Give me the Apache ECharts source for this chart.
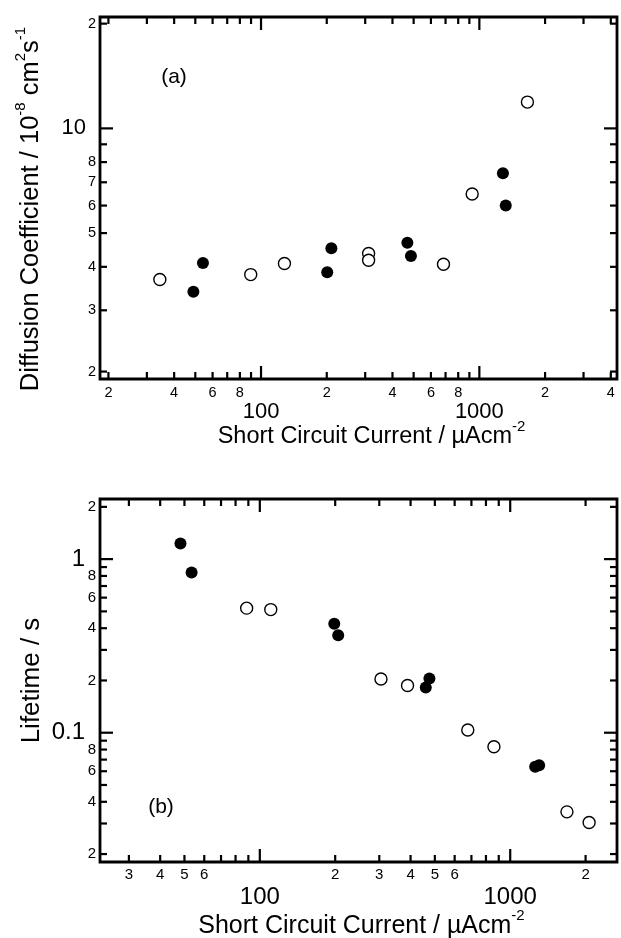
<!DOCTYPE html>
<html><head><meta charset="utf-8">
<script src="https://cdn.jsdelivr.net/npm/echarts@6/dist/echarts.min.js"></script>
<style>html,body{margin:0;padding:0;background:#fff}#c{width:621px;height:938px}</style>
</head><body><div id="c"></div>
<script>
// ---------- Panel (a): diffusion coefficient vs short circuit current ----------
const aOpenX   = [34.4, 89.7, 128, 311, 311, 685, 927, 1660];
const aOpenY   = [3.68, 3.80, 4.09, 4.37, 4.18, 4.07, 6.48, 11.9];
const aFilledX = [49, 54.2, 201, 210, 468, 486, 1282, 1321];
const aFilledY = [3.39, 4.10, 3.86, 4.52, 4.69, 4.30, 7.43, 6.0];

// ---------- Panel (b): lifetime vs short circuit current ----------
const bOpenX   = [88.6, 110.6, 304.7, 389, 677, 861, 1685, 2066];
const bOpenY   = [0.522, 0.512, 0.204, 0.187, 0.1036, 0.083, 0.035, 0.0304];
const bFilledX = [48.2, 53.4, 198.3, 205.6, 460, 475.7, 1258, 1305];
const bFilledY = [1.23, 0.837, 0.425, 0.364, 0.182, 0.205, 0.0637, 0.0649];

// ---------- Ticks and tick labels ----------
const aXMajor = [100, 1000];
const aXMinor = [20,30,40,50,60,70,80,90,200,300,400,500,600,700,800,900,2000,3000,4000];
const aXMinorLabels = [20,40,60,80,200,400,600,800,2000,4000];
const aYMajor = [10];
const aYMinor = [2,3,4,5,6,7,8,9,20];
const aYMinorLabels = [2,3,4,5,6,7,8,20];

const bXMajor = [100, 1000];
const bXMinor = [30,40,50,60,70,80,90,200,300,400,500,600,700,800,900,2000];
const bXMinorLabels = [30,40,50,60,200,300,400,500,600,2000];
const bYMajor = [0.1, 1];
const bYMinor = [0.02,0.03,0.04,0.05,0.06,0.07,0.08,0.09,0.2,0.3,0.4,0.5,0.6,0.7,0.8,0.9,2];
const bYMinorLabels = [0.02,0.04,0.06,0.08,0.2,0.4,0.6,0.8,2];

const FONT = '"Liberation Sans", Arial, Helvetica, sans-serif';

function lead(v){ const e = Math.floor(Math.log10(v) + 1e-9); return String(Math.round(v / Math.pow(10, e))); }
function specs(major, minor, minorLabels){
  return major.map(v => ({v, major:true, label:String(v)}))
    .concat(minor.map(v => ({v, major:false, label: minorLabels.indexOf(v) >= 0 ? lead(v) : null})));
}
function zip(xs, ys){ return xs.map((x, i) => [x, ys[i]]); }

const panels = [
  { grid:{left:100, top:17, width:517, height:362},
    xMin:18.3, xMax:4270, yMin:1.904, yMax:20.9,
    xs: specs(aXMajor, aXMinor, aXMinorLabels), ys: specs(aYMajor, aYMinor, aYMinorLabels),
    minorFont:14.5, majorFont:22, xMinorOff:14, xMajorOff:33, yMinorOff:4, yMajorOff:14,
    open: zip(aOpenX, aOpenY), filled: zip(aFilledX, aFilledY),
    xName:'{m|Short Circuit Current / µAcm}{sup|-2}', xFont:23.5, xSup:15, xGap:40, xPad:[0,0,0,26],
    yName:'{m|Diffusion Coefficient / 10}{sup|-8}{m| cm}{sup|2}{m|s}{sup|-1}', yFont:25.5, ySup:15, yGap:51, yPad:[0,22,0,0],
    tag:'(a)', tagX:174, tagY:77 },
  { grid:{left:100, top:499, width:517, height:363},
    xMin:23.0, xMax:2670, yMin:0.018, yMax:2.22,
    xs: specs(bXMajor, bXMinor, bXMinorLabels), ys: specs(bYMajor, bYMinor, bYMinorLabels),
    minorFont:15, majorFont:24, xMinorOff:13, xMajorOff:35, yMinorOff:4, yMajorOff:15,
    open: zip(bOpenX, bOpenY), filled: zip(bFilledX, bFilledY),
    xName:'{m|Short Circuit Current / µAcm}{sup|-2}', xFont:25, xSup:15, xGap:46, xPad:[0,0,0,6],
    yName:'{m|Lifetime / s}', yFont:26, ySup:15, yGap:55, yPad:[0,0,0,0],
    tag:'(b)', tagX:161, tagY:807 }
];

const grids = [], xAxes = [], yAxes = [], series = [], graphics = [];
panels.forEach((P, i) => {
  grids.push(Object.assign({show:true, borderColor:'#000', borderWidth:2.8, backgroundColor:'transparent', containLabel:false, outerBoundsMode:'none'}, P.grid));
  const nameStyle = (fs, sup, pad, boxPad) => ({color:'#000', fontFamily:FONT, fontSize:fs, padding:boxPad,
    rich:{ m:{fontSize:fs, fontFamily:FONT, color:'#000', verticalAlign:'middle'},
           sup:{fontSize:sup, fontFamily:FONT, color:'#000', verticalAlign:'middle', padding:[0,0,pad,0]} }});
  const hidden = {axisLine:{show:false}, axisTick:{show:false}, axisLabel:{show:false}, splitLine:{show:false}, minorTick:{show:false}};
  xAxes.push(Object.assign({type:'log', logBase:10, gridIndex:i, min:P.xMin, max:P.xMax,
    name:P.xName, nameLocation:'middle', nameGap:P.xGap, nameTextStyle:nameStyle(P.xFont, P.xSup, Math.round(P.xSup*1.4), P.xPad)}, hidden));
  yAxes.push(Object.assign({type:'log', logBase:10, gridIndex:i, min:P.yMin, max:P.yMax,
    name:P.yName, nameLocation:'middle', nameGap:P.yGap, nameTextStyle:nameStyle(P.yFont, P.ySup, Math.round(P.ySup*1.4), P.yPad)}, hidden));

  const tickStyle = {stroke:'#000', lineWidth:2.2};
  // x ticks (bottom & top, inward) + labels
  series.push({type:'custom', xAxisIndex:i, yAxisIndex:i, clip:false, silent:true, z:1,
    data: P.xs.map(s => [s.v, P.yMin]),
    renderItem:(params, api) => {
      const s = P.xs[params.dataIndex];
      const pb = api.coord([s.v, P.yMin]), pt = api.coord([s.v, P.yMax]);
      const len = s.major ? 13 : 7;
      const ch = [
        {type:'line', shape:{x1:pb[0], y1:pb[1], x2:pb[0], y2:pb[1]-len}, style:tickStyle},
        {type:'line', shape:{x1:pt[0], y1:pt[1], x2:pt[0], y2:pt[1]+len}, style:tickStyle}];
      if (s.label) ch.push({type:'text', style:{x:pb[0], y:pb[1] + (s.major ? P.xMajorOff : P.xMinorOff),
        text:s.label, align:'center', verticalAlign:'middle', fontSize:s.major ? P.majorFont : P.minorFont, fontFamily:FONT, fill:'#000'}});
      return {type:'group', children:ch};
    }});
  // y ticks (left & right, inward) + labels
  series.push({type:'custom', xAxisIndex:i, yAxisIndex:i, clip:false, silent:true, z:1,
    data: P.ys.map(s => [P.xMin, s.v]),
    renderItem:(params, api) => {
      const s = P.ys[params.dataIndex];
      const pl = api.coord([P.xMin, s.v]), pr = api.coord([P.xMax, s.v]);
      const len = s.major ? 13 : 7;
      const ch = [
        {type:'line', shape:{x1:pl[0], y1:pl[1], x2:pl[0]+len, y2:pl[1]}, style:tickStyle},
        {type:'line', shape:{x1:pr[0], y1:pr[1], x2:pr[0]-len, y2:pr[1]}, style:tickStyle}];
      if (s.label) ch.push({type:'text', style:{x:pl[0] - (s.major ? P.yMajorOff : P.yMinorOff), y:pl[1],
        text:s.label, align:'right', verticalAlign:'middle', fontSize:s.major ? P.majorFont : P.minorFont, fontFamily:FONT, fill:'#000'}});
      return {type:'group', children:ch};
    }});
  series.push({type:'scatter', xAxisIndex:i, yAxisIndex:i, data:P.open, symbol:'circle', symbolSize:12, silent:true, z:3,
    itemStyle:{color:'#fff', borderColor:'#000', borderWidth:1.4, opacity:1}});
  series.push({type:'scatter', xAxisIndex:i, yAxisIndex:i, data:P.filled, symbol:'circle', symbolSize:12, silent:true, z:3,
    itemStyle:{color:'#000', borderColor:'#000', borderWidth:0, opacity:1}});
  graphics.push({type:'text', x:P.tagX, y:P.tagY, silent:true,
    style:{text:P.tag, fontSize:21, fontFamily:FONT, fill:'#000', align:'center', verticalAlign:'middle'}});
});

const chart = echarts.init(document.getElementById('c'), null, {renderer:'canvas'});
chart.setOption({
  animation:false, backgroundColor:'#fff',
  grid:grids, xAxis:xAxes, yAxis:yAxes, series:series, graphic:graphics
});
</script></body></html>
